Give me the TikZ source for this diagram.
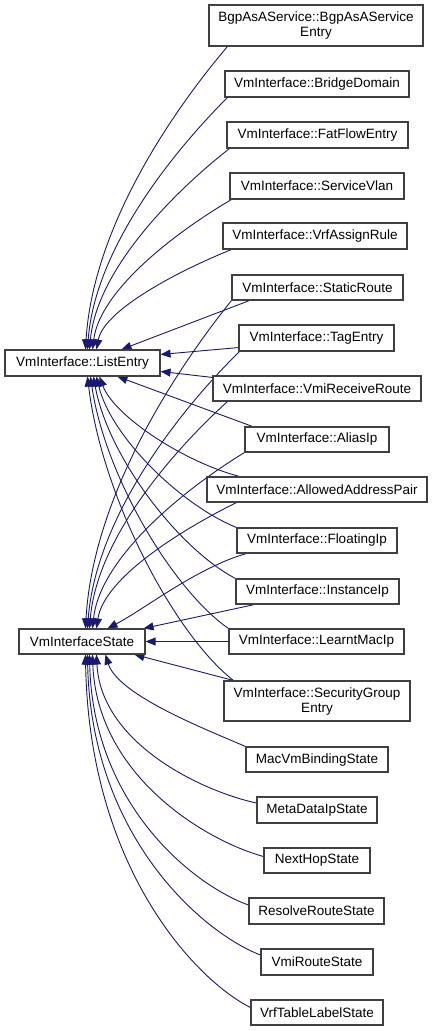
\documentclass[tikz,border=0pt]{standalone}
\usepackage{fontspec}
\setmainfont{Liberation Sans}
\usetikzlibrary{arrows.meta,calc,backgrounds}
\definecolor{edgecol}{HTML}{191970}
\definecolor{boxcol}{HTML}{404040}
\begin{document}
\begin{tikzpicture}[x=1pt,y=-1pt,
  box/.style={draw=boxcol, line width=1.1pt, fill=white, rectangle, inner sep=0pt,
    minimum height=26pt, font=\fontsize{13.5}{15}\selectfont, align=center},
  lnk/.style={draw=edgecol, line width=0.9pt, -{Triangle[length=10pt,width=8pt]}},
]
\useasboundingbox (0,0) rectangle (432,1031);

% parents
\node[box, minimum width=155pt] (le) at (82.5,363) {VmInterface::ListEntry};
\node[box, minimum width=126pt, minimum height=25pt] (vs) at (82,641.5) {VmInterfaceState};

% children
\node[box, minimum width=214pt, minimum height=41pt] (bgp) at (316,25.5) {BgpAsAService::BgpAsAService\\Entry};
\node[box, minimum width=184pt] (bd) at (317,84) {VmInterface::BridgeDomain};
\node[box, minimum width=181pt] (ff) at (317.5,135) {VmInterface::FatFlowEntry};
\node[box, minimum width=174pt] (sv) at (317,186) {VmInterface::ServiceVlan};
\node[box, minimum width=184pt] (va) at (315,236) {VmInterface::VrfAssignRule};
\node[box, minimum width=171pt, minimum height=25pt] (sr) at (317.5,287.5) {VmInterface::StaticRoute};
\node[box, minimum width=155pt] (te) at (316.5,338) {VmInterface::TagEntry};
\node[box, minimum width=208pt, minimum height=25pt] (vr) at (317,388.5) {VmInterface::VmiReceiveRoute};
\node[box, minimum width=144pt, minimum height=25pt] (ai) at (317,439.5) {VmInterface::AliasIp};
\node[box, minimum width=220pt, minimum height=25pt] (ap) at (317,489.5) {VmInterface::AllowedAddressPair};
\node[box, minimum width=160pt, minimum height=25pt] (fi) at (317,540.5) {VmInterface::FloatingIp};
\node[box, minimum width=163pt, minimum height=25pt] (ii) at (317.5,591.5) {VmInterface::InstanceIp};
\node[box, minimum width=175pt, minimum height=25pt] (lm) at (316.5,641.5) {VmInterface::LearntMacIp};
\node[box, minimum width=186pt, minimum height=40pt] (sg) at (317,701) {VmInterface::SecurityGroup\\Entry};
\node[box, minimum width=142pt, minimum height=25pt] (mv) at (317,759.5) {MacVmBindingState};
\node[box, minimum width=120pt] (md) at (317,810) {MetaDataIpState};
\node[box, minimum width=106pt, minimum height=25pt] (nh) at (317,860.5) {NextHopState};
\node[box, minimum width=135pt] (rr) at (316.5,911) {ResolveRouteState};
\node[box, minimum width=112pt] (vm) at (317,962) {VmiRouteState};
\node[box, minimum width=132pt, minimum height=25pt] (vt) at (317,1012.5) {VrfTableLabelState};

\begin{scope}[on background layer]
\fill[white] (0,0) rectangle (432,1031);
% to ListEntry from above
\draw[lnk] ($(bgp.south west)+(19,0)$) .. controls (171,113) and (93,228) .. ($(le.north west)+(81,0)$);
\draw[lnk] ($(bd.south west)+(3,0)$) .. controls (172,153) and (95,249) .. ($(le.north west)+(83,0)$);
\draw[lnk] ($(ff.south west)+(3,0)$) .. controls (174,192) and (97,269) .. ($(le.north west)+(85,0)$);
\draw[lnk] ($(sv.south west)+(2,0)$) .. controls (176,232) and (100,290) .. ($(le.north west)+(88,0)$);
\draw[lnk] ($(va.south west)+(9,0)$) .. controls (178,271) and (104,310) .. ($(le.north west)+(92,0)$);
\draw[lnk] ($(sr.south west)+(18,0)$) -- ($(le.north west)+(117,0)$);
\draw[lnk] ($(te.south west)+(0,-4)$) -- ($(le.north east)+(0,5)$);
\draw[lnk] ($(vr.north west)+(0,2)$) -- ($(le.north east)+(0,22)$);
% to ListEntry from below
\draw[lnk] ($(ai.north west)+(8,0)$) -- ($(le.south west)+(113,0)$);
\draw[lnk] ($(ap.north west)+(33,0)$) .. controls (184,462) and (114,416) .. ($(le.south west)+(95,0)$);
\draw[lnk] (fi.north west) .. controls (181,505) and (111,437) .. ($(le.south west)+(92,0)$);
\draw[lnk] (ii.north west) .. controls (179,549) and (108,457) .. ($(le.south west)+(89,0)$);
\draw[lnk] (lm.north west) .. controls (174,591) and (105,477) .. ($(le.south west)+(86,0)$);
\draw[lnk] ($(sg.north west)+(10,0)$) .. controls (175,635) and (102,498) .. ($(le.south west)+(83,0)$);
% to VmInterfaceState from above
\draw[lnk] (sr.south west) .. controls (174,372) and (93,497) .. ($(vs.north west)+(67,0)$);
\draw[lnk] ($(te.south west)+(1,0)$) .. controls (179,411) and (96,517) .. ($(vs.north west)+(69,0)$);
\draw[lnk] ($(vr.south west)+(15,0)$) .. controls (173,451) and (97,538) .. ($(vs.north west)+(71,0)$);
\draw[lnk] (ai.south west) .. controls (183,490) and (100,558) .. ($(vs.north west)+(74,0)$);
\draw[lnk] ($(ap.south west)+(30,0)$) .. controls (181,530) and (104,578) .. ($(vs.north west)+(78,0)$);
\draw[lnk] ($(fi.south west)+(10,0)$) .. controls (198,567) and (143,610) .. ($(vs.north west)+(89,0)$);
\draw[lnk] ($(ii.south west)+(19,0)$) -- ($(vs.north east)+(-2,0)$);
\draw[lnk] (lm.west) -- (vs.east);
\draw[lnk] ($(sg.north west)+(10,0)$) -- ($(vs.south west)+(116,0)$);
% to VmInterfaceState from below
\draw[lnk] (mv.north west) .. controls (205,729) and (118,695) .. ($(vs.south west)+(87,0)$);
\draw[lnk] ($(md.west)+(0,-7)$) .. controls (201,791) and (101,743) .. ($(vs.south west)+(78,0)$);
\draw[lnk] ($(nh.west)+(0,-4)$) .. controls (204,840) and (97,775) .. ($(vs.south west)+(74,0)$);
\draw[lnk] ($(rr.west)+(0,-6)$) .. controls (193,885) and (93,805) .. ($(vs.south west)+(71,0)$);
\draw[lnk] ($(vm.west)+(0,-7)$) .. controls (201,932) and (91,835) .. ($(vs.south west)+(69,0)$);
\draw[lnk] ($(vt.west)+(0,-5)$) .. controls (194,979) and (89,866) .. ($(vs.south west)+(67,0)$);
\end{scope}
\end{tikzpicture}
\end{document}
